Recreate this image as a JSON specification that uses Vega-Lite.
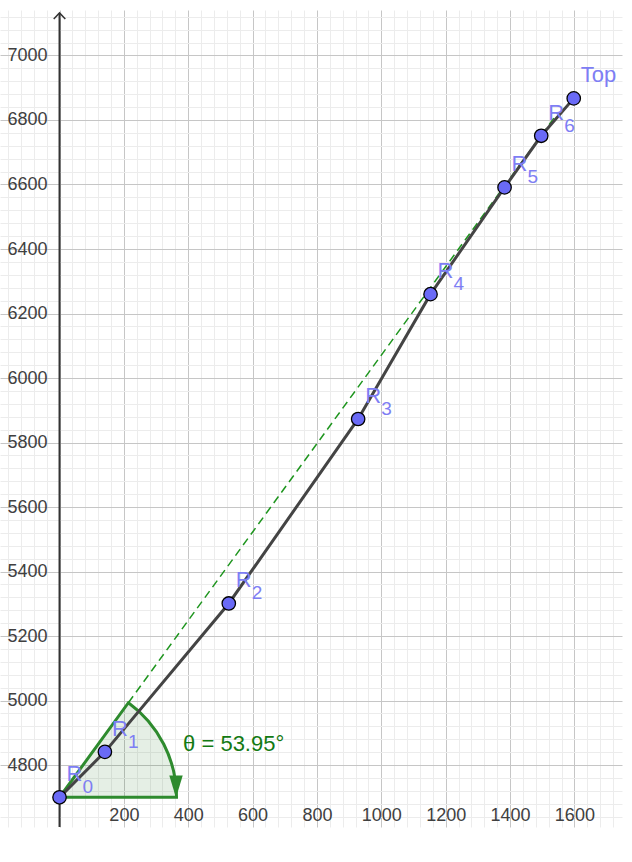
{
  "$schema": "https://vega.github.io/schema/vega-lite/v6.json",
  "width": 622,
  "height": 817,
  "autosize": {"type": "none"},
  "padding": {"left": 0, "top": 10, "right": 10, "bottom": 35},
  "background": "white",
  "config": {"view": {"stroke": null}, "font": "Liberation Sans"},
  "datasets": {
    "pts": [
      {"i": 0, "x": 0, "y": 4700, "main": "R", "sub": "0"},
      {"i": 1, "x": 141, "y": 4841, "main": "R", "sub": "1"},
      {"i": 2, "x": 526, "y": 5301, "main": "R", "sub": "2"},
      {"i": 3, "x": 928, "y": 5873, "main": "R", "sub": "3"},
      {"i": 4, "x": 1153, "y": 6260, "main": "R", "sub": "4"},
      {"i": 5, "x": 1383, "y": 6591, "main": "R", "sub": "5"},
      {"i": 6, "x": 1497, "y": 6751, "main": "R", "sub": "6"},
      {"i": 7, "x": 1598, "y": 6867, "main": "Top", "sub": ""}
    ],
    "axisline": [{"x": 0, "y": 4608, "y2": 7132}],
    "arrow": [
      {"o": 1, "x": -18, "y": 7113},
      {"o": 2, "x": 0, "y": 7132},
      {"o": 3, "x": 18, "y": 7113}
    ],
    "dash": [{"o": 1, "x": 0, "y": 4700}, {"o": 2, "x": 1548, "y": 6822}],
    "angle": [{"x": 0, "y": 4700}],
    "arrowhead": [{"x": 362, "y": 4733}],
    "anglelabel": [{"x": 384, "y": 4843, "label": "θ = 53.95°"}]
  },
  "layer": [
    {
      "data": {"name": "axisline"},
      "mark": {"type": "rule", "color": "#333333", "strokeWidth": 2},
      "encoding": {
        "x": {
          "field": "x", "type": "quantitative",
          "scale": {"domain": [-185, 1748], "nice": false, "zero": false},
          "axis": {
            "orient": "bottom", "offset": -23, "title": null, "tickCount": 500,
            "values": [-160,-120,-80,-40,0,40,80,120,160,200,240,280,320,360,400,440,480,520,560,600,640,680,720,760,800,840,880,920,960,1000,1040,1080,1120,1160,1200,1240,1280,1320,1360,1400,1440,1480,1520,1560,1600,1640,1680,1720],
            "domain": false, "ticks": false, "labelPadding": 2,
            "grid": true,
            "gridColor": {"condition": {"test": "datum.value % 200 === 0", "value": "#c6c6c6"}, "value": "#ececec"},
            "gridWidth": 1,
            "format": "d",
            "labelExpr": "datum.value > 0 && datum.value % 200 === 0 ? datum.label : ''",
            "labelFontSize": 18, "labelColor": "#404040", "labelFont": "Liberation Sans",
            "labelOverlap": false, "labelFlush": false, "labelDx": 2
          }
        },
        "y": {
          "field": "y", "type": "quantitative",
          "scale": {"domain": [4608, 7141], "nice": false, "zero": false},
          "axis": {
            "orient": "left", "offset": -60, "title": null, "tickCount": 500,
            "values": [4640,4680,4720,4760,4800,4840,4880,4920,4960,5000,5040,5080,5120,5160,5200,5240,5280,5320,5360,5400,5440,5480,5520,5560,5600,5640,5680,5720,5760,5800,5840,5880,5920,5960,6000,6040,6080,6120,6160,6200,6240,6280,6320,6360,6400,6440,6480,6520,6560,6600,6640,6680,6720,6760,6800,6840,6880,6920,6960,7000,7040,7080,7120],
            "domain": false, "ticks": false, "labelPadding": 13,
            "grid": true,
            "gridColor": {"condition": {"test": "datum.value % 200 === 0", "value": "#c6c6c6"}, "value": "#ececec"},
            "gridWidth": 1,
            "format": "d",
            "labelExpr": "datum.value % 200 === 0 ? datum.label : ''",
            "labelFontSize": 18, "labelColor": "#404040", "labelFont": "Liberation Sans",
            "labelOverlap": false, "labelFlush": false
          }
        },
        "y2": {"field": "y2"}
      }
    },
    {
      "data": {"name": "arrow"},
      "mark": {"type": "line", "color": "#333333", "strokeWidth": 1.5},
      "encoding": {
        "x": {"field": "x", "type": "quantitative"},
        "y": {"field": "y", "type": "quantitative"},
        "order": {"field": "o"}
      }
    },
    {
      "data": {"name": "dash"},
      "mark": {"type": "line", "color": "#1e951e", "strokeWidth": 1.5, "strokeDash": [8, 5]},
      "encoding": {
        "x": {"field": "x", "type": "quantitative"},
        "y": {"field": "y", "type": "quantitative"},
        "order": {"field": "o"}
      }
    },
    {
      "data": {"name": "angle"},
      "mark": {"type": "arc", "theta": 0.6292, "theta2": 1.5708, "radius": 117, "fill": "#006400", "fillOpacity": 0.1, "stroke": "#2e8b2e", "strokeWidth": 3, "strokeJoin": "miter"},
      "encoding": {
        "x": {"field": "x", "type": "quantitative"},
        "y": {"field": "y", "type": "quantitative"}
      }
    },
    {
      "data": {"name": "pts"},
      "mark": {"type": "line", "color": "#444444", "strokeWidth": 3},
      "encoding": {
        "x": {"field": "x", "type": "quantitative"},
        "y": {"field": "y", "type": "quantitative"},
        "order": {"field": "i"}
      }
    },
    {
      "data": {"name": "arrowhead"},
      "mark": {"type": "point", "shape": "M-0.6,-1L0.6,-1L0,1Z", "size": 500, "filled": true, "color": "#2e8b2e", "opacity": 1},
      "encoding": {
        "x": {"field": "x", "type": "quantitative"},
        "y": {"field": "y", "type": "quantitative"}
      }
    },
    {
      "data": {"name": "pts"},
      "mark": {"type": "circle", "size": 180, "fill": "#6a6af6", "stroke": "#000000", "strokeWidth": 1.3, "opacity": 1},
      "encoding": {
        "x": {"field": "x", "type": "quantitative"},
        "y": {"field": "y", "type": "quantitative"}
      }
    },
    {
      "data": {"name": "pts"},
      "mark": {"type": "text", "align": "left", "baseline": "alphabetic", "dx": 7, "dy": -16, "fontSize": 22, "color": "#7e7ef4", "font": "Liberation Sans"},
      "encoding": {
        "x": {"field": "x", "type": "quantitative"},
        "y": {"field": "y", "type": "quantitative"},
        "text": {"field": "main"}
      }
    },
    {
      "data": {"name": "pts"},
      "mark": {"type": "text", "align": "left", "baseline": "alphabetic", "dx": 23, "dy": -4, "fontSize": 19, "color": "#7e7ef4", "font": "Liberation Sans"},
      "encoding": {
        "x": {"field": "x", "type": "quantitative"},
        "y": {"field": "y", "type": "quantitative"},
        "text": {"field": "sub"}
      }
    },
    {
      "data": {"name": "anglelabel"},
      "mark": {"type": "text", "align": "left", "baseline": "alphabetic", "fontSize": 22, "color": "#137a13", "font": "Liberation Sans"},
      "encoding": {
        "x": {"field": "x", "type": "quantitative"},
        "y": {"field": "y", "type": "quantitative"},
        "text": {"field": "label"}
      }
    }
  ]
}
